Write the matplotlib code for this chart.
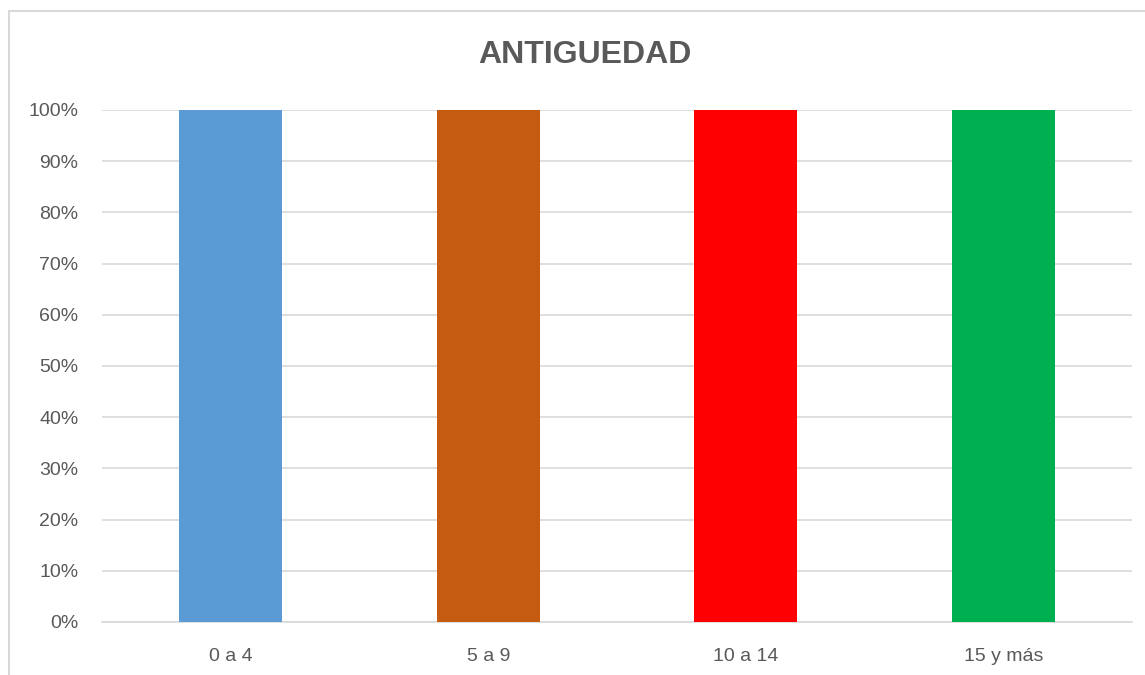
import matplotlib.pyplot as plt
from matplotlib.patches import Rectangle
from matplotlib.ticker import PercentFormatter

categories = ["0 a 4", "5 a 9", "10 a 14", "15 y más"]
values = [100, 100, 100, 100]
colors = ["#5B9BD5", "#C55A11", "#FF0000", "#00B050"]
yticks = [0, 10, 20, 30, 40, 50, 60, 70, 80, 90, 100]

plt.rcParams["font.family"] = ["Liberation Sans", "DejaVu Sans"]

fig = plt.figure(figsize=(11.45, 6.75), dpi=100)
ax = fig.add_axes([102 / 1145, 53 / 675, 1030 / 1145, 512 / 675])

x = range(len(categories))
ax.bar(x, values, width=0.4, color=colors, zorder=3)

ax.set_xlim(-0.5, len(categories) - 0.5)
ax.set_ylim(0, 100)
ax.set_yticks(yticks)
ax.yaxis.set_major_formatter(PercentFormatter(decimals=0))
ax.set_xticks(list(x))
ax.set_xticklabels(categories)

ax.grid(axis="y", color="#D9D9D9", linewidth=1.2, zorder=0)
for side in ["top", "right", "left"]:
    ax.spines[side].set_visible(False)
ax.spines["bottom"].set_color("#D9D9D9")
ax.spines["bottom"].set_linewidth(1.2)
ax.tick_params(axis="both", length=0, labelsize=14, labelcolor="#595959")
ax.tick_params(axis="y", pad=17)
ax.tick_params(axis="x", pad=19)

fig.text(585 / 1145, 1 - 55 / 675, "ANTIGUEDAD", ha="center", va="center",
         fontsize=23, fontweight="bold", color="#595959")

# chart border (cropped at right and bottom)
fig.patches.append(Rectangle((9 / 1145, -0.1), 1.2, 1 - 11 / 675 + 0.1,
                             transform=fig.transFigure, fill=False,
                             edgecolor="#D9D9D9", linewidth=1.5))

fig.savefig("out.png", dpi=100)
